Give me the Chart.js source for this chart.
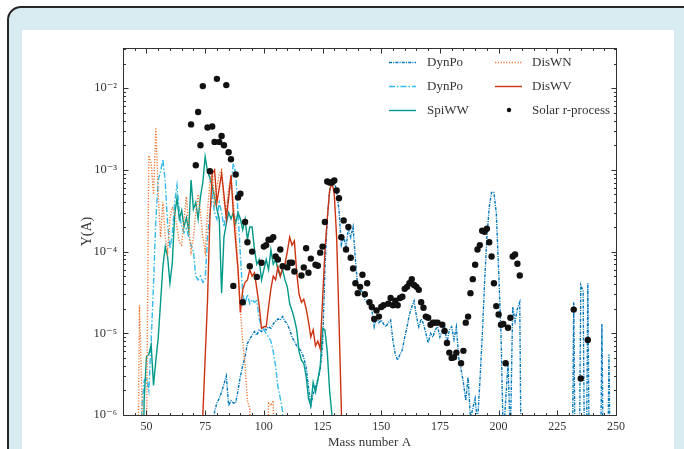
<!DOCTYPE html>
<html>
<head>
<meta charset="utf-8">
<script src="https://cdn.jsdelivr.net/npm/chart.js@4.4.1/dist/chart.umd.min.js"></script>
<style>
  html, body { margin: 0; padding: 0; background: #fff; }
  body { width: 684px; height: 449px; overflow: hidden; position: relative; }
  .frame { position: absolute; left: 7px; top: 6px; width: 720px; height: 480px; box-sizing: border-box;
           border: 2px solid #262626; border-radius: 14px; background: #d8ebf1; }
  .panel { position: absolute; left: 22px; top: 30px; width: 652px; height: 430px; background: #fff; }
  canvas { display: block; }
</style>
</head>
<body>
<div class="frame"></div>
<div class="panel"><canvas id="chart" width="652" height="430"></canvas></div>
<script>
/* ---------- data: [mass number A, Y(A)] ---------- */
const xTicks = [50, 75, 100, 125, 150, 175, 200, 225, 250];
const yTicks = [1e-6, 1e-5, 1e-4, 1e-3, 1e-2];

const dynPo1 = [[78,1e-7],[79,1.1e-6],[80,1.4e-6],[81,1.6e-6],[82,1.9e-6],[83,2.4e-6],[84,3e-6],[85,1.3e-6],[86,1.5e-6],[87,1.4e-6],[88,1.4e-6],[89,2e-6],[90,3e-6],[91,4e-6],[92,5.2e-6],[93,7.5e-6],[94,8.5e-6],[95,9.5e-6],[96,1.05e-5],[97,9.5e-6],[98,1.1e-5],[99,1.05e-5],[100,1.15e-5],[101,1.1e-5],[102,1.2e-5],[103,1.15e-5],[104,1.3e-5],[105,1.4e-5],[106,1.5e-5],[107,1.45e-5],[108,1.6e-5],[109,1.4e-5],[110,1.3e-5],[111,1.1e-5],[112,9e-6],[113,8e-6],[114,7e-6],[115,6.5e-6],[116,6e-6],[117,5e-6],[118,3.9e-6],[119,2.2e-6],[120,1.3e-6],[121,1.8e-6],[122,2.2e-6],[123,2.7e-6],[124,3.6e-6],[125,7e-6],[126,6e-5],[127,2.5e-4],[128,5.5e-4],[129,7.6e-4],[130,7.5e-4],[131,5.3e-4],[132,3.3e-4],[133,1.2e-4],[134,1.5e-4],[135,1.15e-4],[136,1.9e-4],[137,1.5e-4],[138,2e-4],[139,8e-5],[140,3.6e-5],[141,3.4e-5],[142,3.2e-5],[143,2.6e-5],[144,2.4e-5],[145,2.1e-5],[146,1.95e-5],[147,1.2e-5],[148,1.6e-5],[149,1.35e-5],[150,1.45e-5],[151,1.3e-5],[152,1.2e-5],[153,1.35e-5],[154,1.45e-5],[155,8e-6],[156,5.5e-6],[157,4.7e-6],[158,5.5e-6],[159,6.3e-6],[160,9e-6],[161,1.2e-5],[162,1.7e-5],[163,2.1e-5],[164,2.5e-5],[165,1.6e-5],[166,1.2e-5],[167,1.5e-5],[168,1.3e-5],[169,1e-5],[170,7.6e-6],[171,1e-5],[172,9e-6],[173,1.1e-5],[174,1.2e-5],[175,9e-6],[176,1.1e-5],[177,1.2e-5],[178,7.6e-6],[179,1.1e-5],[180,1.2e-5],[181,8.4e-6],[182,1.2e-5],[183,5e-6],[184,3.6e-6],[185,2.5e-6],[186,1.5e-6],[187,2.9e-6],[188,9e-7],[189,1.2e-6],[190,1.6e-6],[191,8e-7],[192,2.5e-6],[193,9e-6],[194,4e-5],[195,1.5e-4],[196,3.5e-4],[197,5.3e-4],[198,5.3e-4],[199,3e-4],[200,6e-5],[201,1e-5],[202,5e-7],[203,1.5e-6],[204,4.3e-6],[205,5e-7],[206,2.1e-5],[207,1.4e-5],[208,2e-5],[209,2.4e-5],[210,1e-8],[231,1e-8],[232,2.4e-5],[233,1e-8],[234,1e-8],[235,3.9e-5],[236,3.3e-5],[237,1e-8],[238,4.1e-5],[239,1e-8],[243,1e-8],[244,1.3e-5],[245,1e-8],[246,1e-8],[247,5.5e-6],[248,1e-8]];

const dynPo2 = [[47,1e-8],[48,1.2e-6],[49,2.6e-6],[50,2.9e-6],[51,2e-6],[52,8e-6],[53,4e-5],[54,2.5e-4],[55,7.5e-4],[56,9.5e-4],[57,1.35e-3],[58,7e-4],[59,2.2e-4],[60,1.1e-4],[61,1.6e-4],[62,4e-4],[63,6.5e-4],[64,3e-4],[65,2e-4],[66,1.7e-4],[67,1.9e-4],[68,1.5e-4],[69,1.2e-4],[70,1e-4],[71,5e-5],[72,4.5e-5],[73,5e-5],[74,4.2e-5],[75,4.5e-5],[76,1.5e-4],[77,3e-4],[78,5e-4],[79,3e-4],[80,2.5e-4],[81,4e-4],[82,3e-4],[83,2e-4],[84,3e-4],[85,5e-4],[86,7e-4],[87,1.2e-3],[88,9e-4],[89,3e-4],[90,9e-5],[91,3e-5],[92,2.3e-5],[93,3e-5],[94,2.3e-5],[95,2.6e-5],[96,2.4e-5],[97,2.5e-5],[98,1.5e-5],[99,1.2e-5],[100,1.1e-5],[101,1e-5],[102,9e-6],[103,8e-6],[104,6e-6],[105,4e-6],[106,2.2e-6],[107,1.6e-6],[108,1.1e-6],[109,1e-8]];

const spiWW = [[48,1e-8],[49,1.5e-6],[50,5.2e-6],[51,5.5e-6],[52,7.2e-6],[53,2.3e-6],[54,4.7e-6],[55,8.8e-6],[56,2.4e-5],[57,6.6e-5],[58,1.15e-4],[59,8.6e-5],[60,4.1e-5],[61,7.3e-5],[62,2.8e-4],[63,4.5e-4],[64,2.5e-4],[65,3.2e-4],[66,2e-4],[67,2.6e-4],[68,1.8e-4],[69,7.5e-4],[70,3.3e-4],[71,4e-4],[72,2.5e-4],[73,4.7e-4],[74,7e-4],[75,1.45e-3],[76,9.5e-4],[77,8e-4],[78,6.3e-4],[79,4.7e-4],[80,3.3e-4],[81,2.5e-4],[82,3.1e-5],[83,1.5e-4],[84,2.2e-4],[85,3e-4],[86,2.5e-4],[87,3e-4],[88,2.2e-4],[89,3e-4],[90,2.5e-4],[91,1.85e-4],[92,2.5e-4],[93,1.4e-4],[94,2e-4],[95,2e-4],[96,1.05e-4],[97,7e-5],[98,8e-5],[99,4.5e-5],[100,6e-5],[101,8e-5],[102,6e-5],[103,1.05e-4],[104,7e-5],[105,8e-5],[106,6e-5],[107,5e-5],[108,6e-5],[109,4.5e-5],[110,3.7e-5],[111,2.3e-5],[112,1.9e-5],[113,1.5e-5],[114,1.1e-5],[115,6e-6],[116,4.7e-6],[117,4.3e-6],[118,3e-6],[119,1.6e-6],[120,1.3e-6],[121,2.5e-6],[122,1.9e-6],[123,2.7e-6],[124,3.9e-6],[125,1.15e-5],[126,1.1e-5],[127,6e-6],[128,2e-6],[129,1e-6],[130,1e-8]];

const disWN = [[45,1e-8],[46,1e-8],[47,2.2e-5],[48,2e-6],[49,1e-7],[50,5e-7],[51,1.5e-3],[52,1.2e-3],[53,5e-4],[54,3.3e-3],[55,5e-4],[56,1.5e-4],[57,4e-4],[58,1.5e-4],[59,1e-4],[60,2.5e-4],[61,3.5e-4],[62,3e-4],[63,2e-4],[64,1.3e-4],[65,1.2e-4],[66,2.5e-4],[67,4.7e-4],[68,2e-4],[69,1e-4],[70,1.5e-4],[71,3e-4],[72,5e-4],[73,3e-4],[74,1.5e-4],[75,1e-4],[76,3e-4],[77,7e-4],[78,1e-3],[79,4e-4],[80,6e-4],[81,9e-4],[82,1e-3],[83,4e-4],[84,3e-4],[85,6e-4],[86,8e-4],[87,4e-4],[88,2e-4],[89,6e-5],[90,2e-5],[91,8e-6],[92,4e-6],[93,1.5e-6],[94,1.2e-6],[95,1e-8],[101,1e-8],[102,1.4e-6],[103,1.3e-6],[104,1.5e-6],[105,1e-8]];

const disWV = [[73,1e-8],[74,1e-6],[75,5e-6],[76,2.5e-5],[77,2.5e-4],[78,9e-4],[79,1e-3],[80,4e-4],[81,6e-4],[82,9e-4],[83,5e-4],[84,2.5e-4],[85,4.5e-4],[86,8.6e-4],[87,3e-4],[88,1.3e-4],[89,6e-5],[90,1.8e-5],[91,3.4e-5],[92,4.2e-5],[93,4.5e-5],[94,6e-5],[95,5e-5],[96,5.5e-5],[97,3.5e-5],[98,2.2e-5],[99,1.15e-5],[100,1.2e-5],[101,1.2e-5],[102,2.1e-5],[103,3.5e-5],[104,5e-5],[105,4.5e-5],[106,6.5e-5],[107,5e-5],[108,6.4e-5],[109,7e-5],[110,1e-4],[111,1.5e-4],[112,1.2e-4],[113,1.35e-4],[114,5.5e-5],[115,3e-5],[116,2.4e-5],[117,2.6e-5],[118,2e-5],[119,1.4e-5],[120,9e-6],[121,1.1e-5],[122,7e-6],[123,8e-6],[124,6.5e-6],[125,2.5e-5],[126,1e-4],[127,2.5e-4],[128,5.5e-4],[129,7.2e-4],[130,5e-4],[131,1.5e-4],[132,1.5e-5],[133,1.2e-6],[134,1e-8]];

const solar = [[69,3.6e-3],[71,1.14e-3],[72,5.1e-3],[73,2.0e-3],[74,1.06e-2],[76,3.3e-3],[77,9.6e-4],[78,3.4e-3],[79,2.2e-3],[80,1.3e-2],[81,2.2e-3],[82,2.6e-3],[83,2.0e-3],[84,1.09e-2],[85,1.64e-3],[86,1.35e-3],[87,3.8e-5],[88,8.8e-4],[89,4.6e-4],[90,5.1e-4],[91,2.4e-5],[92,2.3e-4],[93,1.3e-4],[94,6.6e-5],[95,1.0e-4],[97,4.9e-5],[99,7.3e-5],[100,1.15e-4],[101,1.2e-4],[102,1.4e-4],[103,1.4e-4],[104,1.5e-4],[105,8.7e-5],[106,8.0e-5],[107,1.06e-4],[108,6.6e-5],[110,6.4e-5],[111,7.3e-5],[112,7.3e-5],[113,5.7e-5],[116,5.1e-5],[117,6.4e-5],[118,1.1e-4],[119,5.5e-5],[120,8.2e-5],[122,6.9e-5],[123,6.7e-5],[124,9.7e-5],[125,1.15e-4],[126,2.3e-4],[127,7.2e-4],[128,7.0e-4],[129,7.0e-4],[130,7.4e-4],[131,5.6e-4],[132,4.5e-4],[133,1.5e-4],[134,2.4e-4],[135,1.06e-4],[136,2.0e-4],[137,8.4e-5],[138,6.2e-5],[139,4.1e-5],[140,3.1e-5],[141,3.7e-5],[142,5.2e-5],[143,3.0e-5],[144,4.1e-5],[145,2.4e-5],[146,2.1e-5],[147,1.5e-5],[148,1.9e-5],[149,1.6e-5],[150,2.1e-5],[151,2.2e-5],[153,2.3e-5],[154,2.7e-5],[155,2.2e-5],[156,2.5e-5],[157,2.2e-5],[158,2.7e-5],[159,2.8e-5],[160,3.5e-5],[161,3.7e-5],[162,4.1e-5],[163,4.6e-5],[164,3.9e-5],[165,3.7e-5],[166,3.4e-5],[167,2.4e-5],[168,2.05e-5],[169,1.6e-5],[170,1.55e-5],[171,1.27e-5],[172,1.35e-5],[173,1.35e-5],[174,1.35e-5],[176,1.27e-5],[177,1.07e-5],[178,7.6e-6],[179,5.8e-6],[180,5.0e-6],[181,5.1e-6],[182,5.8e-6],[184,4.3e-6],[185,6.1e-6],[186,1.35e-5],[187,1.6e-5],[188,3.1e-5],[189,4.6e-5],[190,6.9e-5],[191,1.06e-4],[192,1.2e-4],[193,1.8e-4],[194,1.75e-4],[195,1.9e-4],[196,1.3e-4],[197,8.7e-5],[198,4.1e-5],[199,2.15e-5],[200,1.7e-5],[201,1.27e-5],[202,1.3e-5],[203,4.3e-6],[204,1.17e-5],[205,1.55e-5],[206,8.7e-5],[207,9.2e-5],[208,7.1e-5],[209,5.1e-5],[232,1.95e-5],[235,2.8e-6],[238,8.3e-6]];

/* ---------- helpers ---------- */
const FONT = '"Liberation Serif", "DejaVu Serif", serif';
const INK = "#333";
const SUP = { "-": "\u207B", 0: "\u2070", 1: "\u00B9", 2: "\u00B2", 3: "\u00B3", 4: "\u2074", 5: "\u2075", 6: "\u2076", 7: "\u2077", 8: "\u2078", 9: "\u2079" };
const pow10 = (v) => "10" + String(Math.round(Math.log10(v))).split("").map((c) => SUP[c]).join("");
const pts = (arr) => arr.map(([x, y]) => ({ x, y }));

const line = (label, arr, color, dash, order) => ({
  label, data: pts(arr), showLine: true, borderColor: color, backgroundColor: color,
  borderWidth: 1.4, borderDash: dash, pointRadius: 0, tension: 0, fill: false, order,
});

/* ejes estilo matplotlib: marco completo y ticks hacia dentro */
const axesFrame = {
  id: "axesFrame",
  afterDatasetsDraw(chart) {
    const { ctx, chartArea: a, scales: { x, y } } = chart;
    const L = Math.round(a.left) + 0.5, R = Math.round(a.right) + 0.5;
    const T = Math.round(a.top) + 0.5, B = Math.round(a.bottom) + 0.5;
    ctx.save();
    ctx.strokeStyle = INK; ctx.lineWidth = 1;
    ctx.strokeRect(L, T, R - L, B - T);
    ctx.beginPath();
    for (let v = 40; v <= 250; v += 5) {
      const px = Math.round(x.getPixelForValue(v)) + 0.5;
      const len = xTicks.includes(v) ? 5 : 2.5;
      ctx.moveTo(px, B); ctx.lineTo(px, B - len);
      ctx.moveTo(px, T); ctx.lineTo(px, T + len);
    }
    for (let e = -6; e <= -2; e++) {
      for (let m = 1; m <= 9; m++) {
        const v = m * Math.pow(10, e);
        if (v > y.max) break;
        const py = Math.round(y.getPixelForValue(v)) + 0.5;
        const len = m === 1 ? 5 : 2.5;
        ctx.moveTo(L, py); ctx.lineTo(L + len, py);
        ctx.moveTo(R, py); ctx.lineTo(R - len, py);
      }
    }
    ctx.stroke();
    ctx.restore();
  },
};

/* leyenda en dos columnas dentro del área */
const legendBox = {
  id: "legendBox",
  afterDraw(chart) {
    const { ctx } = chart;
    const cols = [{ x: 367, tx: 405 }, { x: 473, tx: 510 }];
    const rows = [32, 56, 80];
    ctx.save();
    ctx.font = "13px " + FONT;
    ctx.textBaseline = "middle";
    chart.data.datasets.forEach((ds, i) => {
      const c = cols[Math.floor(i / 3)], yy = rows[i % 3];
      if (ds.showLine) {
        ctx.strokeStyle = ds.borderColor; ctx.lineWidth = ds.borderWidth;
        ctx.setLineDash(ds.borderDash || []);
        ctx.beginPath(); ctx.moveTo(c.x, yy + 0.5); ctx.lineTo(c.x + 27, yy + 0.5); ctx.stroke();
        ctx.setLineDash([]);
      } else {
        ctx.fillStyle = ds.backgroundColor;
        ctx.beginPath(); ctx.arc(c.x + 14, yy, 2.2, 0, Math.PI * 2); ctx.fill();
      }
      ctx.fillStyle = INK;
      ctx.fillText(ds.label, c.tx, yy + 1);
    });
    ctx.restore();
  },
};

new Chart(document.getElementById("chart"), {
  type: "scatter",
  data: {
    datasets: [
      line("DynPo", dynPo1, "#0077BB", [3, 1.2, 1, 1.2], 5),
      line("DynPo", dynPo2, "#33BBEE", [6, 2, 1.5, 2], 4),
      line("SpiWW", spiWW, "#009988", [], 3),
      line("DisWN", disWN, "#EE7733", [1.2, 1.6], 2),
      line("DisWV", disWV, "#CC3311", [], 1),
      {
        label: "Solar r-process", data: pts(solar), showLine: false, order: 0,
        pointRadius: 3.2, pointBorderWidth: 0, backgroundColor: "#111", borderColor: "#111",
      },
    ],
  },
  options: {
    responsive: false, animation: false, events: [],
    layout: { padding: { left: 0, top: 18, right: 58, bottom: 0 } },
    plugins: { legend: { display: false }, tooltip: { enabled: false } },
    scales: {
      x: {
        type: "linear", min: 40, max: 250,
        grid: { display: false, drawTicks: false }, border: { display: false },
        afterBuildTicks: (s) => { s.ticks = xTicks.map((value) => ({ value })); },
        afterFit: (s) => { s.height = 45; },
        ticks: { color: INK, font: { family: FONT, size: 12 }, padding: 5, maxRotation: 0, autoSkip: false },
        title: { display: true, text: "Mass number A", color: INK, font: { family: FONT, size: 13 }, padding: { top: 0, bottom: 10 } },
      },
      y: {
        type: "logarithmic", min: 1e-6, max: 3.1e-2,
        grid: { display: false, drawTicks: false }, border: { display: false },
        afterBuildTicks: (s) => { s.ticks = yTicks.map((value) => ({ value })); },
        afterFit: (s) => { s.width = 101; },
        ticks: { color: INK, font: { family: FONT, size: 12.5 }, padding: 6, autoSkip: false, callback: (v) => pow10(v) },
        title: { display: true, text: "Y(A)", color: INK, font: { family: FONT, size: 14 }, padding: { top: 57, bottom: 0 } },
      },
    },
  },
  plugins: [axesFrame, legendBox],
});
</script>
</body>
</html>
